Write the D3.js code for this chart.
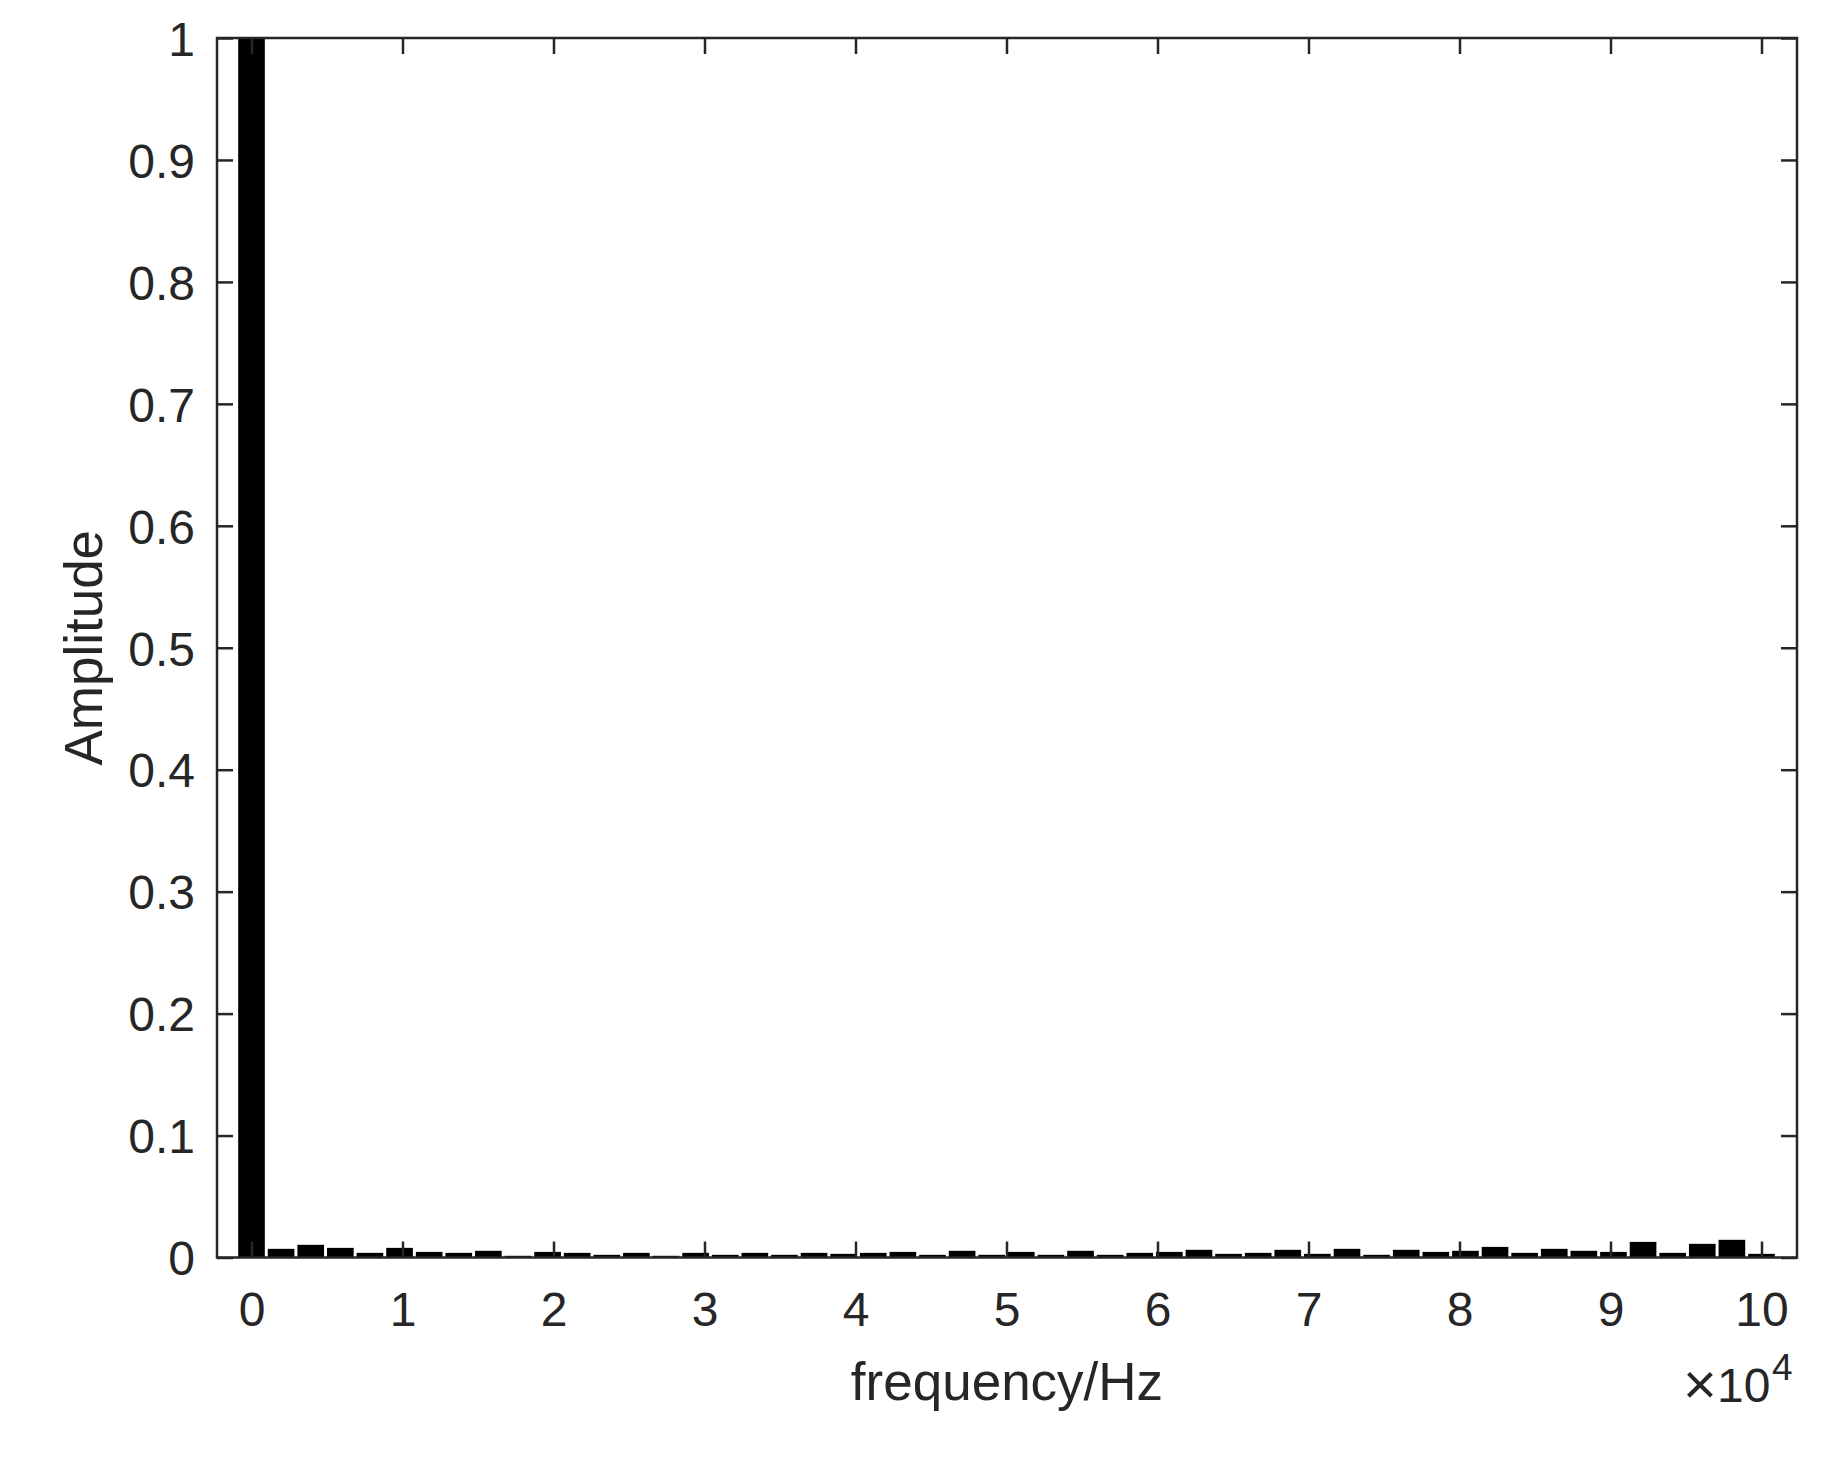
<!DOCTYPE html>
<html>
<head>
<meta charset="utf-8">
<script src="https://cdn.jsdelivr.net/npm/d3@7/dist/d3.min.js"></script>
<style>
  html, body { margin: 0; padding: 0; background: #fff; }
  svg { display: block; }
</style>
</head>
<body>
<svg id="chart" width="1827" height="1473"></svg>
<script>
/* spectrum bar chart — MATLAB-style axes, box on, ticks inward */

// bar centre frequencies (Hz)
const freqs = [
  0, 1961, 3922, 5882, 7843, 9804, 11765, 13725, 15686, 17647,
  19608, 21569, 23529, 25490, 27451, 29412, 31373, 33333, 35294, 37255,
  39216, 41176, 43137, 45098, 47059, 49020, 50980, 52941, 54902, 56863,
  58824, 60784, 62745, 64706, 66667, 68627, 70588, 72549, 74510, 76471,
  78431, 80392, 82353, 84314, 86275, 88235, 90196, 92157, 94118, 96078,
  98039, 100000
];
// normalised amplitude per bar
const amps = [
  1, 0.0071, 0.0104, 0.0079, 0.0038, 0.0079, 0.0046, 0.0038, 0.0055, 0.0014,
  0.0046, 0.0038, 0.0022, 0.0038, 0.0014, 0.0038, 0.0022, 0.0038, 0.0022, 0.0038,
  0.0030, 0.0038, 0.0046, 0.0022, 0.0055, 0.0022, 0.0046, 0.0022, 0.0055, 0.0022,
  0.0038, 0.0046, 0.0063, 0.0030, 0.0038, 0.0063, 0.0030, 0.0071, 0.0022, 0.0063,
  0.0046, 0.0055, 0.0087, 0.0038, 0.0071, 0.0055, 0.0046, 0.0128, 0.0038, 0.0112,
  0.0145, 0.0030
];
const xTicks = [0, 10000, 20000, 30000, 40000, 50000, 60000, 70000, 80000, 90000, 100000];
const xTickLabels = ['0', '1', '2', '3', '4', '5', '6', '7', '8', '9', '10'];
const yTicks = [0, 0.1, 0.2, 0.3, 0.4, 0.5, 0.6, 0.7, 0.8, 0.9, 1];
const yTickLabels = ['0', '0.1', '0.2', '0.3', '0.4', '0.5', '0.6', '0.7', '0.8', '0.9', '1'];
const xLabel = 'frequency/Hz';
const yLabel = 'Amplitude';

const ink = '#262626';
const font = '"Liberation Sans", Arial, Helvetica, sans-serif';
const box = { l: 217, r: 1797, t: 38, b: 1257.5 };
const tickLen = 16;
const barW = 1765; // Hz, ~0.9 of spacing

const x = d3.scaleLinear().domain([-2285, 102351]).range([box.l, box.r]);
const y = d3.scaleLinear().domain([0, 1]).range([box.b, box.t]);

const svg = d3.select('#chart');
svg.append('rect').attr('width', 1827).attr('height', 1473).attr('fill', '#fff');

// bars
svg.append('g').selectAll('rect')
  .data(freqs.map((f, i) => ({ f, a: amps[i] })))
  .join('rect')
  .attr('x', d => x(d.f - barW / 2))
  .attr('width', d => x(d.f + barW / 2) - x(d.f - barW / 2))
  .attr('y', d => y(d.a))
  .attr('height', d => y(0) - y(d.a))
  .attr('fill', '#000');

// axes: bottom/top/left/right, inward ticks
const axB = d3.axisBottom(x).tickValues(xTicks).tickSize(-tickLen).tickPadding(68.5)
  .tickFormat((d, i) => xTickLabels[i]);
const axT = d3.axisTop(x).tickValues(xTicks).tickSize(-tickLen).tickFormat('');
const axL = d3.axisLeft(y).tickValues(yTicks).tickSize(-tickLen).tickPadding(22)
  .tickFormat((d, i) => yTickLabels[i]);
const axR = d3.axisRight(y).tickValues(yTicks).tickSize(-tickLen).tickFormat('');

function style(g) {
  g.select('.domain').remove();
  g.selectAll('.tick line').attr('stroke', ink).attr('stroke-width', 2.5);
  g.selectAll('.tick text').attr('fill', ink).attr('font-family', font).attr('font-size', 48);
}
svg.append('g').attr('transform', `translate(0,${box.b})`).call(axB).call(style)
  .selectAll('.tick text').attr('dy', '0');
svg.append('g').attr('transform', `translate(0,${box.t})`).call(axT).call(style);
svg.append('g').attr('transform', `translate(${box.l},0)`).call(axL).call(style)
  .selectAll('.tick text').attr('dy', '0.36em');
svg.append('g').attr('transform', `translate(${box.r},0)`).call(axR).call(style);

// box
svg.append('rect')
  .attr('x', box.l).attr('y', box.t)
  .attr('width', box.r - box.l).attr('height', box.b - box.t)
  .attr('fill', 'none').attr('stroke', ink).attr('stroke-width', 2.5);

// axis labels
svg.append('text')
  .attr('x', (box.l + box.r) / 2).attr('y', 1400)
  .attr('text-anchor', 'middle')
  .attr('font-family', font).attr('font-size', 53).attr('fill', ink)
  .text(xLabel);
svg.append('text')
  .attr('transform', `translate(102,${(box.t + box.b) / 2}) rotate(-90)`)
  .attr('text-anchor', 'middle')
  .attr('font-family', font).attr('font-size', 53).attr('fill', ink)
  .text(yLabel);

// exponent ×10^4
const expo = svg.append('g').attr('fill', ink).attr('font-family', font);
expo.append('text').attr('x', 1700).attr('y', 1404).attr('text-anchor', 'middle')
  .attr('font-size', 58).text('\u00d7');
expo.append('text').attr('x', 1717).attr('y', 1402).attr('font-size', 48).text('10');
expo.append('text').attr('x', 1772).attr('y', 1380).attr('font-size', 37).text('4');
</script>
</body>
</html>
